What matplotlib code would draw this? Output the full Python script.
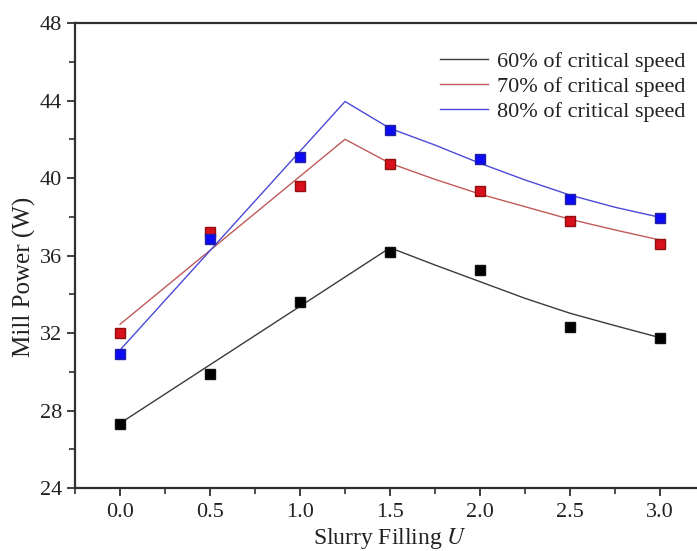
import matplotlib.pyplot as plt
from matplotlib.ticker import MultipleLocator

# Measured points
filling = [0.0, 0.5, 1.0, 1.5, 2.0, 2.5, 3.0]
power_60 = [27.3, 29.9, 33.6, 36.2, 35.25, 32.3, 31.75]
power_70 = [32.0, 37.2, 39.6, 40.7, 39.35, 37.8, 36.6]
power_80 = [30.9, 36.85, 41.1, 42.5, 41.0, 38.9, 37.95]

# Fitted model curves
fit_x_60 = [0.0, 1.5, 1.75, 2.0, 2.25, 2.5, 2.75, 3.0]
fit_y_60 = [27.34, 36.4, 35.51, 34.65, 33.79, 33.02, 32.38, 31.76]
fit_x_hi = [0.0, 1.25, 1.5, 1.75, 2.0, 2.25, 2.5, 2.75, 3.0]
fit_y_70 = [32.45, 42.0, 40.76, 39.93, 39.17, 38.52, 37.87, 37.32, 36.8]
fit_y_80 = [31.12, 43.95, 42.56, 41.7, 40.76, 39.9, 39.12, 38.49, 37.97]

labels = ["60% of critical speed", "70% of critical speed", "80% of critical speed"]

plt.rcParams["font.family"] = ["Liberation Serif", "DejaVu Serif"]
plt.rcParams["mathtext.fontset"] = "stix"

fig = plt.figure(figsize=(6.97, 5.51), dpi=100)
ax = fig.add_axes([0.1076, 0.1143, 0.904, 0.8439])

ax.plot(fit_x_60, fit_y_60, color="#3a3a3a", lw=1.0, label=labels[0])
ax.plot(fit_x_hi, fit_y_70, color="#c05a5a", lw=1.0, label=labels[1])
ax.plot(fit_x_hi, fit_y_80, color="#4a4ad8", lw=1.0, label=labels[2])

ax.plot(filling, power_60, "s", color="#000000", mec="#111111", ms=7, zorder=3)
ax.plot(filling, power_70, "s", color="#d8101c", mec="#901010", ms=7, zorder=3)
ax.plot(filling, power_80, "s", color="#0a0af5", mec="#2020a0", ms=7, zorder=3)

ax.set_xlim(-0.25, 3.25)
ax.set_ylim(24, 48)
ax.xaxis.set_major_locator(MultipleLocator(0.5))
ax.xaxis.set_minor_locator(MultipleLocator(0.25))
ax.yaxis.set_major_locator(MultipleLocator(4))
ax.yaxis.set_minor_locator(MultipleLocator(2))
ax.xaxis.set_major_formatter(plt.FormatStrFormatter("%.1f"))

for side in ["left", "bottom", "top", "right"]:
    ax.spines[side].set_linewidth(1.6)
    ax.spines[side].set_color("#303030")
ax.tick_params(which="major", direction="out", length=6, width=1.3, labelsize=16,
               colors="#303030", labelcolor="#222222")
ax.tick_params(which="minor", direction="out", length=4, width=1.2, colors="#303030")
ax.tick_params(axis="x", pad=5)

ax.set_xlabel("Slurry Filling $\\mathit{U}$", fontsize=17, color="#222222", labelpad=3)
ax.set_ylabel("Mill Power (W)", fontsize=18, color="#222222")
ax.yaxis.set_label_coords(-0.062, 0.455)

leg = ax.legend(loc="upper left", bbox_to_anchor=(0.565, 0.959), frameon=False,
                fontsize=16, handlelength=2.15, handletextpad=0.4, labelspacing=0.2,
                borderaxespad=0.0)
for t in leg.get_texts():
    t.set_color("#222222")

fig.savefig("out.png", dpi=100)
